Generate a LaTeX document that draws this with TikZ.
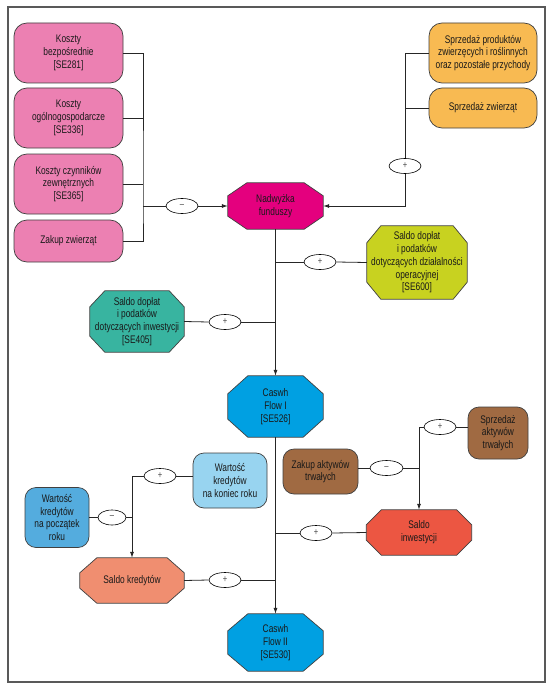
\documentclass[tikz,border=0pt]{standalone}
\usepackage{fontspec}
\setmainfont{Liberation Sans}[FakeStretch=0.76]
\usetikzlibrary{arrows.meta,shapes.geometric}
\definecolor{pinkc}{RGB}{236,128,178}
\definecolor{magc}{RGB}{228,0,126}
\definecolor{orc}{RGB}{248,186,82}
\definecolor{limec}{RGB}{200,210,32}
\definecolor{tealc}{RGB}{56,180,160}
\definecolor{cfc}{RGB}{0,160,226}
\definecolor{lbc}{RGB}{152,212,240}
\definecolor{mbc}{RGB}{84,172,222}
\definecolor{brc}{RGB}{160,106,66}
\definecolor{redc}{RGB}{236,86,66}
\definecolor{salc}{RGB}{240,142,112}
\newcommand{\octn}[8]{%
 \node[rectangle, inner sep=0pt, minimum width=#3, minimum height=#4] (#1) at #2 {};
 \filldraw[fill=#7, draw=black!75, line width=0.7pt]
   ([xshift=#5]#1.north west) -- ([xshift=-#5]#1.north east) -- ([yshift=-#6]#1.north east)
   -- ([yshift=#6]#1.south east) -- ([xshift=-#5]#1.south east) -- ([xshift=#5]#1.south west)
   -- ([yshift=#6]#1.south west) -- ([yshift=-#6]#1.north west) -- cycle;
 \node[txt] (#1t) at (#1) {#8};}
\begin{document}
\begin{tikzpicture}[x=1pt,y=-1pt,
  txt/.style={font=\fontsize{11}{12.8}\selectfont, text=black!90, align=center, inner sep=0pt},
  rbox/.style={txt, rectangle, rounded corners=13pt, draw=black!75, line width=0.7pt},
  ell/.style={ellipse, draw=black, fill=white, line width=0.6pt, minimum width=32pt, minimum height=15pt, inner sep=0pt, font=\fontsize{10}{10}\selectfont, text=black!70},
  conn/.style={line width=0.8pt, draw=black!85},
  arr/.style={conn, -{Latex[length=6pt,width=4pt]}}]
\fill[white] (0,0) rectangle (556,690);
\useasboundingbox (0,0) rectangle (556,690);
\draw[line width=2.2pt, draw=black!65] (8,7) rectangle (545,682);

% left cost boxes
\node[rbox, fill=pinkc, minimum width=109pt, minimum height=60pt] (k1) at (68.5,53) {Koszty\\bezpośrednie\\{[SE281]}};
\node[rbox, fill=pinkc, minimum width=109pt, minimum height=60pt] (k2) at (68.5,118) {Koszty\\ogólnogospodarcze\\{[SE336]}};
\node[rbox, fill=pinkc, minimum width=109pt, minimum height=60pt] (k3) at (68.5,184) {Koszty czynników\\zewnętrznych\\{[SE365]}};
\node[rbox, fill=pinkc, minimum width=109pt, minimum height=42pt] (k4) at (68.5,241) {Zakup zwierząt};

% right revenue boxes
\node[rbox, fill=orc, minimum width=108pt, minimum height=60pt] (oA) at (483,53) {Sprzedaż produktów\\zwierzęcych i roślinnych\\oraz pozostałe przychody};
\node[rbox, fill=orc, minimum width=108pt, minimum height=40pt] (oB) at (483,108) {Sprzedaż zwierząt};

% octagons
\octn{nad}{(275.5,206)}{95pt}{46pt}{19pt}{13pt}{magc}{Nadwyżka\\funduszy}
\octn{s600}{(417,262.5)}{100pt}{73pt}{14pt}{17pt}{limec}{Saldo dopłat\\i podatków\\dotyczących działalności\\operacyjnej\\{[SE600]}}
\octn{s405}{(137,321.5)}{94pt}{61pt}{15pt}{16pt}{tealc}{Saldo dopłat\\i podatków\\dotyczących inwestycji\\{[SE405]}}
\octn{cf1}{(275.5,406.5)}{95pt}{61pt}{20pt}{18pt}{cfc}{Caswh\\Flow I\\{[SE526]}}
\octn{cf2}{(275.5,642.5)}{95pt}{57pt}{20pt}{17pt}{cfc}{Caswh\\Flow II\\{[SE530]}}
\octn{sinw}{(419,532.5)}{105pt}{45pt}{15pt}{15pt}{redc}{Saldo\\inwestycji}
\octn{skr}{(132,580.5)}{104pt}{45pt}{17pt}{15pt}{salc}{Saldo kredytów}

% other rounded boxes
\node[rbox, fill=brc, rounded corners=11pt, minimum width=60pt, minimum height=52pt] (spa) at (498,433) {Sprzedaż\\aktywów\\trwałych};
\node[rbox, fill=brc, rounded corners=11pt, minimum width=75pt, minimum height=45pt] (zat) at (320.5,471.5) {Zakup aktywów\\trwałych};
\node[rbox, fill=lbc, rounded corners=11pt, minimum width=74pt, minimum height=55pt] (wkk) at (230,480.5) {Wartość\\kredytów\\na koniec roku};
\node[rbox, fill=mbc, rounded corners=11pt, minimum width=64pt, minimum height=60pt] (wkp) at (57,517.5) {Wartość\\kredytów\\na początek\\roku};

% operator ellipses
\node[ell] (m1) at (182,206) {–};
\node[ell] (p1) at (405,166) {+};
\node[ell] (p2) at (320,262) {+};
\node[ell] (p3) at (225,322) {+};
\node[ell] (p4) at (440,427) {+};
\node[ell, minimum width=33pt] (m2) at (386.5,468) {–};
\node[ell] (p5) at (316,533) {+};
\node[ell] (p6) at (160,476) {+};
\node[ell, minimum width=28pt] (m3) at (112,517.5) {–};
\node[ell] (p7) at (225,580) {+};

\coordinate (bL) at (143,206);
\coordinate (j1) at (275.5,262);
\coordinate (j2) at (275.5,322);
\coordinate (j3) at (275.5,533);
\coordinate (j4) at (275.5,580);

% left bus
\draw[conn] (k1.east) -| (bL) |- (k4.east);
\draw[conn] (k2.east) -- (k2.east -| bL);
\draw[conn] (k3.east) -- (k3.east -| bL);
\draw[conn] (bL) -- (m1.west);
\draw[arr] (m1.east) -- (nad.west);

% right bus
\draw[conn] (oA.west) -| (p1.north);
\draw[conn] (oB.west) -- (oB.west -| p1.north);
\draw[arr] (p1.south) |- (nad.east);

% main line
\draw[arr] (nad.south) -- (cf1.north);
\draw[arr] (cf1.south) -- (cf2.north);
\draw[conn] (s600.west) -- (p2.east);
\draw[conn] (p2.west) -- (j1);
\draw[conn] (s405.east) -- (p3.west);
\draw[conn] (p3.east) -- (j2);

% investments
\draw[conn] (p4.east) -- (p4.east -| spa.west);
\draw[arr] (p4.west) -| (sinw.north);
\draw[conn] (m2.west) -- (m2.west -| zat.east);
\draw[conn] (m2.east) -- (m2.east -| sinw.north);
\draw[conn] (sinw.west) -- (p5.east);
\draw[conn] (p5.west) -- (j3);

% credits
\draw[conn] (p6.east) -- (p6.east -| wkk.west);
\draw[arr] (p6.west) -| (skr.north);
\draw[conn] (wkp.east) -- (m3.west);
\draw[conn] (m3.east) -- (m3.east -| skr.north);
\draw[conn] (skr.east) -- (p7.west);
\draw[conn] (p7.east) -- (j4);
\end{tikzpicture}
\end{document}
